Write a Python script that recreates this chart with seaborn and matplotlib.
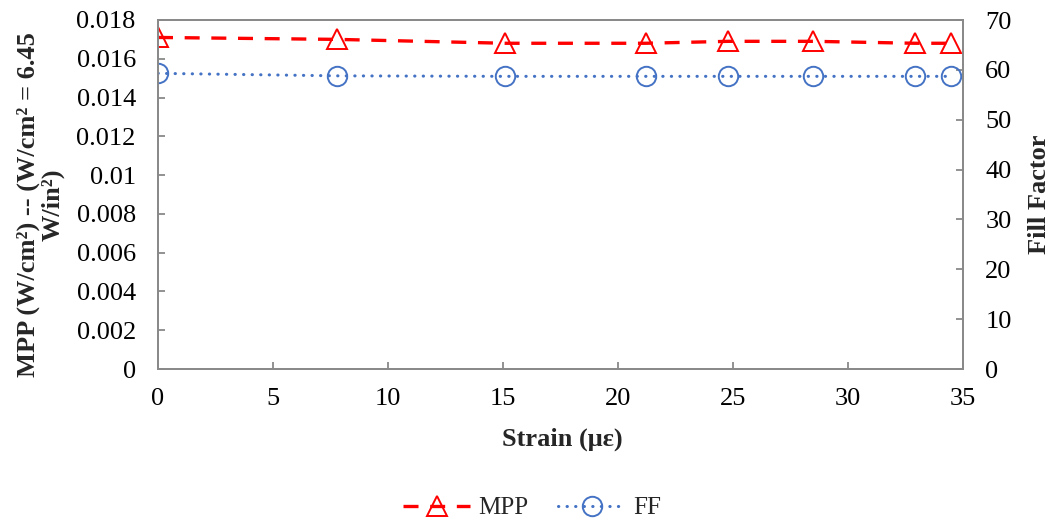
import matplotlib
matplotlib.use("Agg")
import matplotlib.pyplot as plt
import seaborn as sns
import pandas as pd
from matplotlib.ticker import FuncFormatter, MultipleLocator

strain = [0, 7.8, 15.1, 21.2, 24.8, 28.5, 32.9, 34.5]
mpp = [0.0171, 0.0170, 0.0168, 0.0168, 0.0169, 0.0169, 0.0168, 0.0168]
ff = [59.3, 58.8, 58.7, 58.7, 58.7, 58.7, 58.7, 58.7]

sns.set_theme(style="white")
plt.rcParams['font.family'] = ['Liberation Serif', 'DejaVu Serif']

df = pd.DataFrame({"strain": strain, "mpp": mpp, "ff": ff})

fig = plt.figure(figsize=(10.51, 5.21), dpi=100)
ax = fig.add_axes([158/1051, 1-369/521, (963-158)/1051, (369-20)/521])
ax2 = ax.twinx()

sns.lineplot(data=df, x="strain", y="mpp", ax=ax, color="#ff0000", lw=2.4,
             marker="^", markersize=14, markerfacecolor="none",
             markeredgecolor="#ff0000", markeredgewidth=1.4, label="MPP", legend=False)
ax.lines[0].set_dashes((4.5, 3.5))

sns.lineplot(data=df, x="strain", y="ff", ax=ax2, color="#4472c4", lw=2.2,
             marker="o", markersize=14, markerfacecolor="none",
             markeredgecolor="#4472c4", markeredgewidth=1.4, label="FF", legend=False)
ax2.lines[0].set_dashes((0.1, 2.7))
ax2.lines[0].set_dash_capstyle("round")

ax.set_xlim(0, 35)
ax.set_ylim(0, 0.018)
ax2.set_ylim(0, 70)
ax.xaxis.set_major_locator(MultipleLocator(5))
ax.yaxis.set_major_locator(MultipleLocator(0.002))
ax2.yaxis.set_major_locator(MultipleLocator(10))
ax.yaxis.set_major_formatter(FuncFormatter(lambda v, p: "0" if abs(v) < 1e-12 else ("%.3f" % v).rstrip("0")))

for a in (ax, ax2):
    for s in a.spines.values():
        s.set_color("#898989")
        s.set_linewidth(1.3)
    a.tick_params(labelsize=19, colors="#898989", labelcolor="black", direction="in",
                  length=5, width=1.3)
ax.tick_params(axis="y", pad=16, left=True, right=False)
ax2.tick_params(axis="y", pad=16, right=True, left=False)
ax.tick_params(axis="x", pad=14, bottom=True, top=False)
ax.grid(False)
ax2.grid(False)

ax.set_xlabel("Strain (με)", fontsize=19, fontweight="bold")
ax.xaxis.set_label_coords(0.502, -0.169)
ax.set_ylabel("MPP (W/cm²) -- (W/cm² = 6.45\nW/in²)", fontsize=19, fontweight="bold",
              linespacing=1.1)
ax.yaxis.set_label_coords(-0.1155, 0.47)
ax2.set_ylabel("Fill Factor", fontsize=19, fontweight="bold")
ax2.yaxis.set_label_coords(1.081, 0.5)

h1, l1 = ax.get_legend_handles_labels()
h2, l2 = ax2.get_legend_handles_labels()
fig.legend(h1 + h2, l1 + l2, loc="center", bbox_to_anchor=(532/1051, 1-508/521),
           ncol=2, frameon=False, fontsize=18, handlelength=2.7, columnspacing=1.2,
           handletextpad=0.3)

fig.savefig("out.png", dpi=100)
